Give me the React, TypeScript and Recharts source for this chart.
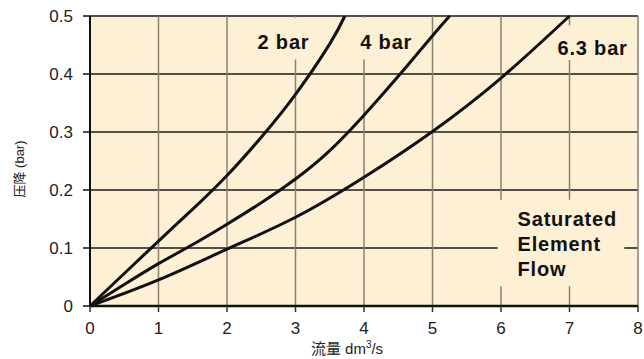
import React from 'react';
import { LineChart, Line, XAxis, YAxis, CartesianGrid, ReferenceArea, Label } from 'recharts';

// flow (dm3/s) vs pressure drop (bar) for each supply pressure
const flow2 = [0, 0.5, 1, 1.5, 2, 2.5, 3, 3.5, 3.72];
const drop2 = [0, 0.056, 0.112, 0.167, 0.225, 0.291, 0.365, 0.452, 0.5];

const flow4 = [0, 0.5, 1, 1.5, 2, 2.5, 3, 3.5, 4, 4.5, 5, 5.25];
const drop4 = [0, 0.037, 0.073, 0.106, 0.141, 0.178, 0.219, 0.268, 0.329, 0.396, 0.466, 0.5];

const flow63 = [0, 1, 2, 3, 4, 5, 6, 7];
const drop63 = [0, 0.045, 0.098, 0.153, 0.222, 0.301, 0.393, 0.5];

const xTicks = [0, 1, 2, 3, 4, 5, 6, 7, 8];
const yTicks = [0, 0.1, 0.2, 0.3, 0.4, 0.5];

const toPoints = (xs: number[], ys: number[]) => xs.map((x, i) => ({ x, y: ys[i] }));

const data2 = toPoints(flow2, drop2);
const data4 = toPoints(flow4, drop4);
const data63 = toPoints(flow63, drop63);

const FONT = '"Liberation Sans", Arial, "Noto Sans CJK SC", sans-serif';
const BG = '#fdf0d5';

const YTitle = (props: any) => {
  const { viewBox } = props;
  const cx = viewBox.x + 19;
  const cy = viewBox.y + viewBox.height / 2 + 8;
  return (
    <text
      x={cx}
      y={cy}
      transform={`rotate(-90 ${cx} ${cy})`}
      textAnchor="middle"
      dominantBaseline="central"
      fontSize={13}
      fontFamily={FONT}
      fill="#222"
    >
      压降 (bar)
    </text>
  );
};

const XTitle = (props: any) => {
  const { viewBox } = props;
  const cx = viewBox.x + viewBox.width / 2 - 17;
  const cy = viewBox.y + 48;
  return (
    <text x={cx} y={cy} textAnchor="middle" fontSize={15} fontFamily={FONT} fill="#222">
      流量 dm<tspan dy={-6} fontSize={10}>3</tspan>
      <tspan dy={6}>/s</tspan>
    </text>
  );
};

const BoxText = (props: any) => {
  const { viewBox, lines, dx = 0, dy = 0, anchor = 'middle' } = props;
  const x = anchor === 'start' ? viewBox.x + dx : viewBox.x + viewBox.width / 2 + dx;
  const y0 = viewBox.y + viewBox.height / 2 + dy - ((lines.length - 1) * 25) / 2;
  return (
    <text
      x={x}
      y={y0}
      textAnchor={anchor}
      dominantBaseline="central"
      fontSize={20}
      fontWeight={700}
      letterSpacing={0.8}
      fontFamily={FONT}
      fill="#111"
    >
      {lines.map((l: string, i: number) => (
        <tspan key={l} x={x} dy={i === 0 ? 0 : 25}>
          {l}
        </tspan>
      ))}
    </text>
  );
};

export default function App() {
  return (
    <div style={{ position: 'absolute', left: 0, top: 0 }}>
      <LineChart width={644} height={359} margin={{ top: 16, right: 6, bottom: 0, left: 0 }}>
        <CartesianGrid
          vertical={false}
          stroke="#1a1a1a"
          strokeWidth={1.3}
          fill={BG}
          fillOpacity={1}
        />
        <CartesianGrid horizontal={false} stroke="#8a8070" strokeWidth={1.5} />
        <XAxis
          type="number"
          dataKey="x"
          domain={[0, 8]}
          ticks={xTicks}
          interval={0}
          height={53}
          tickSize={6}
          tickMargin={10}
          axisLine={{ stroke: '#111', strokeWidth: 2.5 }}
          tickLine={{ stroke: '#333', strokeWidth: 1.5 }}
          tick={{ fill: '#222', fontSize: 17, fontFamily: FONT }}
        >
          <Label content={<XTitle />} />
        </XAxis>
        <YAxis
          type="number"
          domain={[0, 0.5]}
          ticks={yTicks}
          interval={0}
          width={90}
          tickSize={7}
          tickMargin={10}
          axisLine={{ stroke: '#111', strokeWidth: 2 }}
          tickLine={{ stroke: '#111', strokeWidth: 1.5 }}
          tick={{ fill: '#222', fontSize: 17, fontFamily: FONT }}
          tickFormatter={(v: number) => String(v)}
        >
          <Label content={<YTitle />} />
        </YAxis>
        <ReferenceArea x1={2.4} x2={3.25} y1={0.425} y2={0.497} fill={BG} fillOpacity={1} stroke="none"
          label={<BoxText lines={['2 bar']} dy={3.5} />} />
        <ReferenceArea x1={3.95} x2={4.7} y1={0.425} y2={0.497} fill={BG} fillOpacity={1} stroke="none"
          label={<BoxText lines={['4 bar']} dy={3.5} />} />
        <ReferenceArea x1={6.9} x2={7.95} y1={0.424} y2={0.484} fill={BG} fillOpacity={1} stroke="none"
          label={<BoxText lines={['6.3 bar']} dx={-6} dy={5.5} />} />
        <ReferenceArea x1={5.95} x2={7.8} y1={0.034} y2={0.183} fill={BG} fillOpacity={1} stroke="none"
          label={<BoxText lines={['Saturated', 'Element', 'Flow']} anchor="start" dx={20} dy={1} />} />
        <Line data={data2} dataKey="y" type="natural" stroke="#111" strokeWidth={3} dot={false} isAnimationActive={false} />
        <Line data={data4} dataKey="y" type="natural" stroke="#111" strokeWidth={3} dot={false} isAnimationActive={false} />
        <Line data={data63} dataKey="y" type="natural" stroke="#111" strokeWidth={3} dot={false} isAnimationActive={false} />
      </LineChart>
    </div>
  );
}
